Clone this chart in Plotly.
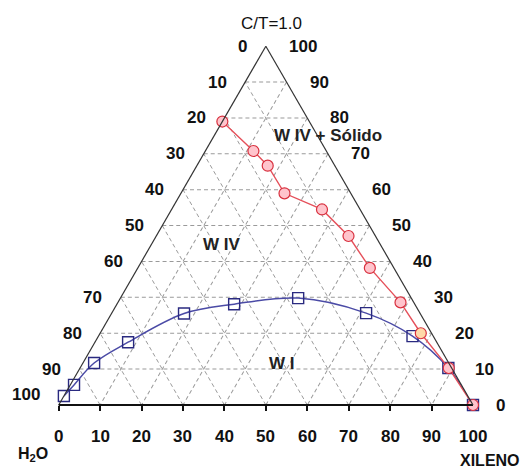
import math
import plotly.graph_objects as go

# ---------------- data (percent; a = C/T, b = H2O, c = XILENO) ----------------
red_ct  = [79.0, 70.8, 66.7, 59.0, 54.5, 47.1, 38.2, 28.6, 20.0, 10.3, 0.0]
red_h2o = [21.0, 17.6, 16.2, 16.0, 9.2, 6.5, 5.8, 3.2, 2.6, 0.7, 0.0]
red_xil = [0.0, 11.6, 17.1, 25.0, 36.3, 46.4, 56.0, 68.2, 77.4, 89.0, 100.0]

blue_ct  = [2.5, 5.6, 11.7, 17.5, 25.5, 28.1, 29.8, 25.6, 19.2, 10.3, 0.0]
blue_h2o = [97.5, 93.5, 85.6, 74.5, 57.0, 43.6, 27.3, 13.0, 5.0, 0.8, 0.0]
blue_xil = [0.0, 0.9, 2.7, 8.0, 17.5, 28.3, 42.9, 61.4, 75.8, 88.9, 100.0]

grid_levels = [100, 90, 80, 70, 60, 50, 40, 30, 20, 10, 0]          # C/T heights
left_tick_labels = ["0", "10", "20", "30", "40", "50", "60", "70", "80", "90", "100"]
right_tick_labels = ["100", "90", "80", "70", "60", "50", "40", "30", "20", "10", "0"]
bottom_ticks = [0, 10, 20, 30, 40, 50, 60, 70, 80, 90, 100]
bottom_tick_labels = ["0", "10", "20", "30", "40", "50", "60", "70", "80", "90", "100"]

# free text: (text, position along base 0..100, C/T height)
region_labels = ["W IV + Sólido", "W IV", "W I"]
region_x = [65.1, 39.2, 53.8]
region_ct = [75.2, 44.6, 11.7]

title_labels = ["C/T=1.0", "<b>H<sub>2</sub>O</b>", "<b>XILENO</b>"]
title_x = [51.25, -6.2, 104.0]
title_ct = [106.4, -13.9, -15.6]

# ---------------- geometry of the figure ----------------
FIG_W, FIG_H = 525, 475
BASE_LEFT_PX = 58.7          # left vertex, px from left
BASE_W_PX = 414.3            # triangle side
BASE_BOTTOM_PX = 70.0        # base line, px from bottom
TRI_H_PX = BASE_W_PX * math.sqrt(3) / 2

FONT = "Liberation Sans, Arial, sans-serif"
fig = go.Figure()

# blue curve (spline) with hollow squares
fig.add_trace(go.Scatterternary(
    a=blue_ct, b=blue_h2o, c=blue_xil, mode="lines+markers",
    line=dict(color="#4b4ba6", width=1.5, shape="spline"),
    marker=dict(symbol="square-open", size=11, color="#2a2a80", line=dict(width=1.4)),
    hoverinfo="skip", cliponaxis=False))

# red line with pink circles
red_fill = ["#ffc4cc"] * len(red_ct)
red_fill[8] = "#ffd9a8"
fig.add_trace(go.Scatterternary(
    a=red_ct, b=red_h2o, c=red_xil, mode="lines+markers",
    line=dict(color="#e5505a", width=1.4),
    marker=dict(symbol="circle", size=11, color=red_fill,
                line=dict(color="#d8303e", width=1.2)),
    hoverinfo="skip", cliponaxis=False))

# empty cartesian trace so the overlay axes (used for base ticks and text) exist
fig.add_trace(go.Scatter(x=[], y=[], hoverinfo="skip", showlegend=False))

tick_font = dict(family=FONT, size=17, color="#111", weight="bold")
annotations = []

# left side labels (right-aligned, left of the edge)
for h, t in zip(grid_levels, left_tick_labels):
    lift = 11 if h == 0 else 0
    annotations.append(dict(x=h / 2.0, y=h, xref="x", yref="y", text=t, showarrow=False,
                            xanchor="right", yanchor="middle", xshift=-16.5, yshift=lift,
                            font=tick_font))
# right side labels (left-aligned, right of the edge)
for h, t in zip(grid_levels, right_tick_labels):
    annotations.append(dict(x=100 - h / 2.0, y=h, xref="x", yref="y", text=t, showarrow=False,
                            xanchor="left", yanchor="middle", xshift=21, font=tick_font))
# bottom labels
for v, t in zip(bottom_ticks, bottom_tick_labels):
    annotations.append(dict(x=v, y=0, xref="x", yref="y", text=t, showarrow=False,
                            xanchor="center", yanchor="middle", yshift=-31, font=tick_font))
# titles
for t, xx, yy in zip(title_labels, title_x, title_ct):
    annotations.append(dict(x=xx, y=yy, xref="x", yref="y", text=t, showarrow=False,
                            xanchor="center", yanchor="middle",
                            font=dict(family=FONT, size=17 if t.startswith("C") else 16,
                                      color="#111")))
# region labels
for t, xx, yy in zip(region_labels, region_x, region_ct):
    annotations.append(dict(x=xx, y=yy, xref="x", yref="y", text=t, showarrow=False,
                            xanchor="center", yanchor="middle",
                            font=dict(family=FONT, size=17, color="#222", weight="bold")))

grid = dict(tickmode="linear", tick0=0, dtick=10, showgrid=True,
            gridcolor="#9a9a9a", gridwidth=1, griddash="4px,3px",
            showticklabels=False, ticks="", title=dict(text=""))

x_range = [-BASE_LEFT_PX * 100 / BASE_W_PX, (FIG_W - BASE_LEFT_PX) * 100 / BASE_W_PX]
y_range = [-BASE_BOTTOM_PX * 100 / TRI_H_PX, (FIG_H - BASE_BOTTOM_PX) * 100 / TRI_H_PX]

fig.update_layout(
    width=FIG_W, height=FIG_H,
    margin=dict(l=0, r=0, t=0, b=0),
    paper_bgcolor="white", plot_bgcolor="rgba(0,0,0,0)",
    showlegend=False,
    font=dict(family=FONT),
    ternary=dict(
        sum=100,
        bgcolor="white",
        domain=dict(x=[BASE_LEFT_PX / FIG_W, (BASE_LEFT_PX + BASE_W_PX) / FIG_W],
                    y=[BASE_BOTTOM_PX / FIG_H, (BASE_BOTTOM_PX + TRI_H_PX) / FIG_H]),
        aaxis=dict(**grid, showline=True, linecolor="#333", linewidth=1.2),
        baxis=dict(**grid, showline=True, linecolor="#111", linewidth=2),
        caxis=dict(**grid, showline=True, linecolor="#333", linewidth=1.2),
    ),
    xaxis=dict(domain=[0, 1], range=x_range, anchor="free", position=BASE_BOTTOM_PX / FIG_H,
               tickmode="array", tickvals=bottom_ticks, ticks="outside", ticklen=5,
               tickwidth=1.5, tickcolor="#111", showticklabels=False, showgrid=False,
               zeroline=False, showline=False, fixedrange=True),
    yaxis=dict(domain=[0, 1], range=y_range, visible=False, fixedrange=True),
    annotations=annotations,
)

fig.write_html("out.html")
